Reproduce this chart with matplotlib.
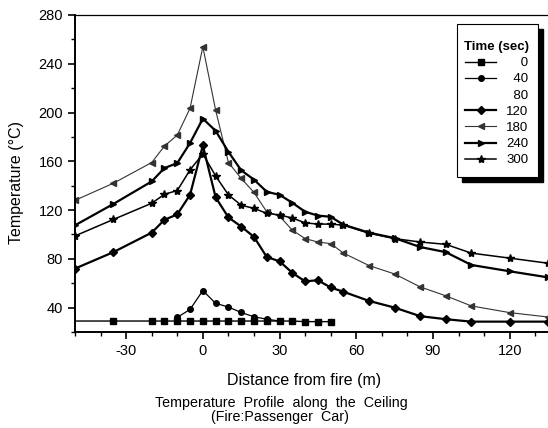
import matplotlib
matplotlib.use("Agg")
import matplotlib.pyplot as plt
from matplotlib.lines import Line2D
from matplotlib.patches import Rectangle
from matplotlib.ticker import MultipleLocator

plt.rcParams['font.family'] = ['Liberation Sans', 'DejaVu Sans']
plt.rcParams['axes.unicode_minus'] = False

# distances (m)
x_full = [-50, -35, -20, -15, -10, -5, 0, 5, 10, 15, 20, 25, 30, 35, 40, 45, 50, 55, 65, 75, 85, 95, 105, 120, 135]
x_t0 = [-50, -35, -20, -15, -10, -5, 0, 5, 10, 15, 20, 25, 30, 35, 40, 45, 50]
x_t40 = [-10, -5, 0, 5, 10, 15, 20, 25, 30]

# temperatures (deg C)
t0 = [29, 29, 29, 29, 29, 29, 29, 29, 29, 29, 29, 29, 29, 29, 28.5, 28.5, 28.5]
t40 = [32, 38.5, 54, 43.5, 40.5, 36, 32.5, 30.5, 29]
t120 = [72, 85.5, 101.5, 112, 116.5, 132.5, 173, 130.5, 114, 106.5, 98, 81.5, 78, 68.5, 61.5, 62.5, 56.5, 53, 45.5, 40, 33, 30.5, 28.5, 28.5, 28.5]
t180 = [128, 142, 159, 172.5, 181.5, 203.5, 254, 202, 159, 146, 134.5, 118.6, 115, 103.5, 96.6, 93.8, 92.5, 84.7, 74.5, 67.6, 57, 49.7, 41.4, 35.9, 32.3]
t240 = [107.5, 125, 143.5, 154.5, 158.5, 175, 195, 185, 167.8, 152.6, 145, 135, 132.5, 126, 118.6, 115.5, 114.5, 108, 101.5, 97, 89.7, 85.5, 75, 69.8, 64.8]
t300 = [98.8, 112.3, 125.6, 133, 136, 153, 166, 148, 132.5, 124, 121.4, 117.3, 116, 113.5, 109.5, 108.5, 108.5, 107.6, 101, 96.6, 93.8, 91.9, 84.7, 80.6, 76.4]

legend_title = "Time (sec)"
legend_labels = ["0", "40", "80", "120", "180", "240", "300"]

W, H = 548, 428
AX_L, AX_R, AX_T, AX_B = 75, 548, 15, 332

fig = plt.figure(figsize=(W / 100, H / 100), dpi=100)
ax = fig.add_axes([AX_L / W, 1 - AX_B / H, (AX_R - AX_L) / W, (AX_B - AX_T) / H])


def axc(px, py):
    return (px - AX_L) / (AX_R - AX_L), (AX_B - py) / (AX_B - AX_T)


h0, = ax.plot(x_t0, t0, color='black', lw=1.0, marker='s', ms=4,
              markevery=list(range(1, len(x_t0))))
h40, = ax.plot(x_t40, t40, color='black', lw=0.9, marker='o', ms=4)
h80 = Line2D([], [], color='none')
h120, = ax.plot(x_full, t120, color='black', lw=1.6, marker='D', ms=4)
h180, = ax.plot(x_full, t180, color='#333333', lw=0.8, marker='<', ms=4.5)
h240, = ax.plot(x_full, t240, color='black', lw=1.6, marker='>', ms=5)
h300, = ax.plot(x_full, t300, color='black', lw=1.1, marker='*', ms=6)

ax.set_xlim(-50, 135)
ax.set_ylim(20, 280)
ax.xaxis.set_major_locator(MultipleLocator(30))
ax.xaxis.set_minor_locator(MultipleLocator(10))
ax.set_yticks([40, 80, 120, 160, 200, 240, 280])
ax.yaxis.set_minor_locator(MultipleLocator(20))
ax.tick_params(which='both', direction='out', labelsize=10.5)
ax.tick_params(which='major', length=5, width=1.2)
ax.tick_params(which='minor', length=3, width=1)
ax.spines['right'].set_visible(False)
for s in ['left', 'bottom']:
    ax.spines[s].set_linewidth(1.4)
ax.spines['top'].set_linewidth(0.9)

ax.set_xlabel("Distance from fire (m)", fontsize=11.5)
ax.xaxis.set_label_coords(*axc(304, 373))
ax.set_ylabel("Temperature (°C)", fontsize=11.5)
ax.yaxis.set_label_coords(*axc(24, 183))

fig.text(281 / W, 1 - 403 / H, "Temperature  Profile  along  the  Ceiling",
         ha='center', va='center', fontsize=10.3)
fig.text(280 / W, 1 - 417 / H, "(Fire:Passenger  Car)",
         ha='center', va='center', fontsize=10.3)

# legend frame with solid drop shadow
bx0, by0 = axc(457, 177)
bx1, by1 = axc(538, 24)
sx, sy = 5 / (AX_R - AX_L), 5 / (AX_B - AX_T)
ax.add_patch(Rectangle((bx0 + sx, by0 - sy), bx1 - bx0, by1 - by0, transform=ax.transAxes,
                       facecolor='black', edgecolor='black', clip_on=False, zorder=5))
ax.add_patch(Rectangle((bx0, by0), bx1 - bx0, by1 - by0, transform=ax.transAxes,
                       facecolor='white', edgecolor='black', lw=0.8, clip_on=False, zorder=6))

maxlen = max(len(s) for s in legend_labels)
padded = ['\u2007' * (maxlen - len(s)) + s for s in legend_labels]
leg = ax.legend([h0, h40, h80, h120, h180, h240, h300], padded,
                title=legend_title, loc='upper center',
                bbox_to_anchor=axc(497, 41), borderaxespad=0, borderpad=0,
                fontsize=9.5, title_fontproperties={'weight': 'bold', 'size': 9.5},
                handlelength=2.3, handletextpad=0.8, labelspacing=0.3,
                frameon=False)
leg.set_zorder(7)

fig.savefig("out.png", dpi=100)
